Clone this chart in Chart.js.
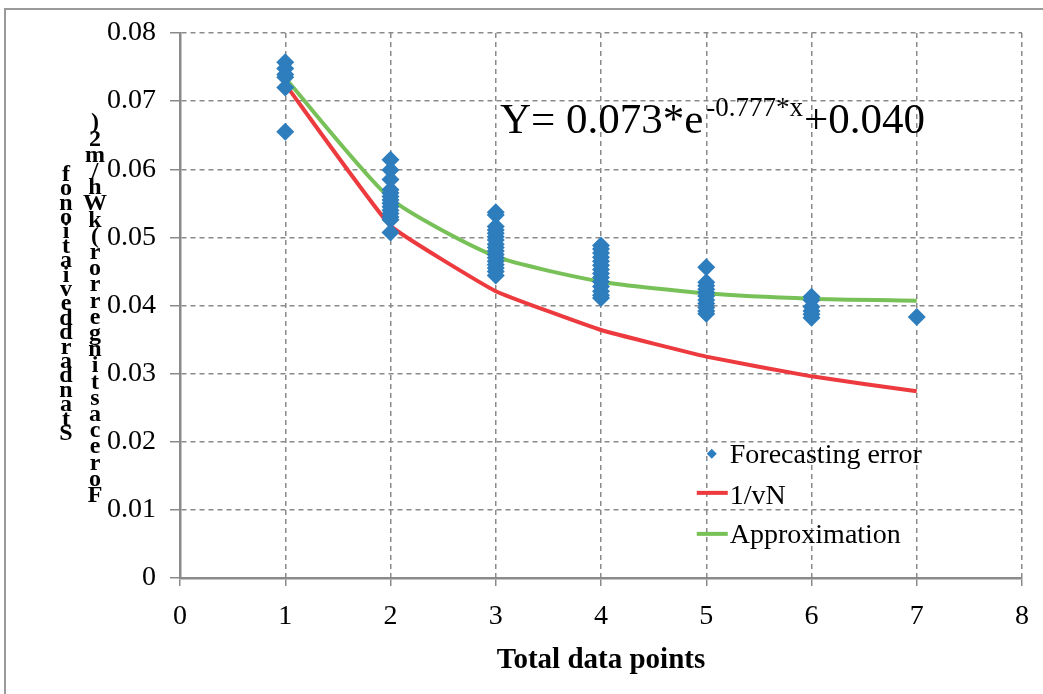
<!DOCTYPE html>
<html>
<head>
<meta charset="utf-8">
<script src="https://cdn.jsdelivr.net/npm/chart.js@4.4.1/dist/chart.umd.min.js"></script>
<style>
  html, body { margin: 0; padding: 0; background: #ffffff; }
  #wrap { width: 1043px; height: 694px; position: relative; }
  canvas { display: block; }
</style>
</head>
<body>
<div id="wrap"><canvas id="c" width="1043" height="694"></canvas></div>
<script>
// ---------------- data ----------------
const xTicks = [0, 1, 2, 3, 4, 5, 6, 7, 8];
const yTicks = [0, 0.01, 0.02, 0.03, 0.04, 0.05, 0.06, 0.07, 0.08];
const curveN = [1, 2, 3, 4, 5, 6, 7];
const invSqrtN = [0.0725, 0.0517, 0.0421, 0.0364, 0.0325, 0.0296, 0.0274];
const approximation = [0.0734, 0.0557, 0.0472, 0.0435, 0.0418, 0.0410, 0.0407];
const errAt1 = [0.0757, 0.0748, 0.0739, 0.0735, 0.0720, 0.0655];
const errAt2 = [0.0614, 0.0599, 0.0585, 0.0570, 0.0565, 0.0560, 0.0555, 0.0550, 0.0545, 0.0540, 0.0535, 0.0530, 0.0526, 0.0507];
const errAt3 = [0.0537, 0.0533, 0.0516, 0.0511, 0.0506, 0.0501, 0.0496, 0.0490, 0.0485, 0.0480, 0.0475, 0.0470, 0.0465, 0.0460, 0.0455, 0.0450, 0.0444];
const errAt4 = [0.0488, 0.0483, 0.0477, 0.0471, 0.0465, 0.0459, 0.0453, 0.0447, 0.0441, 0.0435, 0.0428, 0.0421, 0.0415, 0.0411];
const errAt5 = [0.0456, 0.0434, 0.0429, 0.0424, 0.0419, 0.0414, 0.0408, 0.0403, 0.0397, 0.0392, 0.0388];
const errAt6 = [0.0413, 0.0408, 0.0398, 0.0392, 0.0387, 0.0382];
const errAt7 = [0.0383];
const seriesNames = ['Forecasting error', '1/vN', 'Approximation'];
const xTitle = 'Total data points';
const yTitleCol1 = 'Standard deviation of';
const yTitleCol2 = 'Forecasting error (kWh/m2)';
const eqMain = 'Y= 0.073*e';
const eqSup = '-0.777*x';
const eqTail = '+0.040';

// ---------------- build ----------------
const errGroups = [errAt1, errAt2, errAt3, errAt4, errAt5, errAt6, errAt7];
const errPoints = [];
errGroups.forEach((g, i) => g.forEach(v => errPoints.push({ x: curveN[i], y: v })));
const toXY = (xs, ys) => xs.map((x, i) => ({ x: x, y: ys[i] }));

const BLUE = '#2e7dbd';
const RED = '#ec3a3e';
const GREEN = '#78c158';
const GRID = '#8a8a8a';
const SERIF = '"Liberation Serif", "Times New Roman", Times, serif';

const decor = {
  id: 'decor',
  beforeDraw(chart) {
    const ctx = chart.ctx;
    ctx.save();
    ctx.fillStyle = '#ffffff';
    ctx.fillRect(0, 0, chart.width, chart.height);
    ctx.strokeStyle = '#9a9a9a';
    ctx.lineWidth = 2;
    ctx.strokeRect(5, 9, chart.width + 40, chart.height + 40);
    ctx.restore();
  },
  afterDraw(chart) {
    const ctx = chart.ctx;
    const xs = chart.scales.x, ys = chart.scales.y;
    ctx.save();
    // stacked y-axis title (upright letters, read bottom to top)
    ctx.fillStyle = '#000';
    ctx.font = 'bold 24px ' + SERIF;
    ctx.textAlign = 'center';
    ctx.textBaseline = 'alphabetic';
    const drawStack = (str, cx, bottom, step) => {
      let k = 0;
      for (let i = 0; i < str.length; i++) {
        if (str[i] === ' ') continue;
        ctx.fillText(str[i], cx, bottom - k * step);
        k++;
      }
    };
    drawStack(yTitleCol1, 66, 440, 14.4);
    drawStack(yTitleCol2, 95, 502, 16.2);

    // equation annotation
    ctx.textAlign = 'left';
    const ex = xs.getPixelForValue(3.04);
    const ey = ys.getPixelForValue(0.0653);
    ctx.font = '43px ' + SERIF;
    ctx.fillText(eqMain, ex, ey);
    const w = ctx.measureText(eqMain).width;
    ctx.font = '27px ' + SERIF;
    ctx.fillText(eqSup, ex + w + 3, ey - 17);
    const w2 = ctx.measureText(eqSup).width;
    ctx.font = '43px ' + SERIF;
    ctx.fillText(eqTail, ex + w + 3 + w2 + 1, ey);

    // legend
    const lx = xs.getPixelForValue(4.91);
    const ly0 = ys.getPixelForValue(0.0169);
    const gap = 40;
    ctx.font = '28px ' + SERIF;
    const dx = lx + 15, dy = ly0 - 9;
    ctx.fillStyle = BLUE;
    ctx.beginPath();
    ctx.moveTo(dx, dy - 5); ctx.lineTo(dx + 5, dy); ctx.lineTo(dx, dy + 5); ctx.lineTo(dx - 5, dy);
    ctx.closePath(); ctx.fill();
    ctx.fillStyle = '#000';
    ctx.fillText(seriesNames[0], lx + 33, ly0);
    ctx.lineWidth = 4;
    ctx.strokeStyle = RED;
    ctx.beginPath(); ctx.moveTo(lx, ly0 + gap - 10); ctx.lineTo(lx + 31, ly0 + gap - 10); ctx.stroke();
    ctx.fillText(seriesNames[1], lx + 33, ly0 + gap + 1);
    ctx.strokeStyle = GREEN;
    ctx.beginPath(); ctx.moveTo(lx, ly0 + 2 * gap - 9); ctx.lineTo(lx + 31, ly0 + 2 * gap - 9); ctx.stroke();
    ctx.fillText(seriesNames[2], lx + 33, ly0 + 2 * gap);
    ctx.restore();
  }
};

new Chart(document.getElementById('c'), {
  type: 'scatter',
  data: {
    datasets: [
      {
        label: seriesNames[0],
        data: errPoints,
        showLine: false,
        pointStyle: 'rectRot',
        pointRadius: 9,
        pointBorderWidth: 0,
        backgroundColor: BLUE,
        borderColor: BLUE,
        order: 0
      },
      {
        label: seriesNames[1],
        data: toXY(curveN, invSqrtN),
        showLine: true,
        borderColor: RED,
        borderWidth: 4,
        pointRadius: 0,
        tension: 0.1,
        order: 2
      },
      {
        label: seriesNames[2],
        data: toXY(curveN, approximation),
        showLine: true,
        borderColor: GREEN,
        borderWidth: 4,
        pointRadius: 0,
        tension: 0.2,
        order: 1
      }
    ]
  },
  options: {
    responsive: false,
    animation: false,
    layout: { padding: { left: 0, right: 16, top: 33, bottom: 16 } },
    plugins: { legend: { display: false }, tooltip: { enabled: false } },
    scales: {
      x: {
        type: 'linear',
        min: xTicks[0],
        max: xTicks[xTicks.length - 1],
        afterBuildTicks: s => { s.ticks = xTicks.map(v => ({ value: v })); },
        afterFit: s => { s.height = 100; },
        ticks: { color: '#000', font: { family: SERIF, size: 28 }, padding: 14, callback: v => String(v) },
        grid: { color: GRID, lineWidth: 1.5, tickLength: 8, tickColor: GRID, tickBorderDash: [] },
        border: { display: true, color: GRID, width: 2.5, dash: [5, 4] },
        title: { display: true, text: xTitle, color: '#000', font: { family: SERIF, size: 29, weight: 'bold' }, padding: { top: 0, bottom: 0 } }
      },
      y: {
        type: 'linear',
        min: yTicks[0],
        max: yTicks[yTicks.length - 1],
        afterBuildTicks: s => { s.ticks = yTicks.map(v => ({ value: v })); },
        afterFit: s => { s.width = 180; },
        ticks: { color: '#000', font: { family: SERIF, size: 28 }, padding: 14, callback: v => String(Number(v.toFixed(2))) },
        grid: { color: GRID, lineWidth: 1.5, tickLength: 10, tickColor: GRID, tickBorderDash: [] },
        border: { display: true, color: GRID, width: 2.5, dash: [5, 4] }
      }
    }
  },
  plugins: [decor]
});
</script>
</body>
</html>
